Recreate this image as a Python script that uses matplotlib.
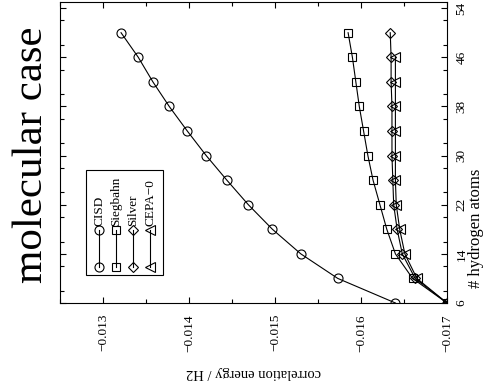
import matplotlib
matplotlib.use("Agg")
from matplotlib import pyplot as plt
from matplotlib.patches import Rectangle
import matplotlib.ticker as mticker

# number of hydrogen atoms
atoms = [6, 10, 14, 18, 22, 26, 30, 34, 38, 42, 46, 50]
atoms_cepa = [6, 10, 14, 18, 22, 26, 30, 34, 38, 42, 46]

# correlation energy / H2
cisd = [-0.01640, -0.01573, -0.01530, -0.01497, -0.01469, -0.01444,
        -0.01420, -0.01398, -0.01377, -0.01358, -0.01341, -0.01321]
siegbahn = [-0.01700, -0.01660, -0.01640, -0.01630, -0.01622, -0.01614,
            -0.01608, -0.01603, -0.01598, -0.01594, -0.01590, -0.01585]
silver = [-0.01700, -0.01663, -0.01648, -0.01642, -0.01638, -0.01637,
          -0.01636, -0.01636, -0.01636, -0.01635, -0.01635, -0.01634]
cepa0 = [-0.01700, -0.01665, -0.01651, -0.01645, -0.01641, -0.01640,
         -0.01640, -0.01640, -0.01640, -0.01640, -0.01640]

names = ["CISD", "Siegbahn", "Silver", "CEPA\u22120"]
markers = ["o", "s", "D", "<"]
msizes = [6.5, 6.3, 5.5, 6.5]

energy_ticks = [-0.013, -0.014, -0.015, -0.016, -0.017]
atom_ticks = [6, 14, 22, 30, 38, 46, 54]

plt.rcParams['font.family'] = ['Liberation Serif', 'DejaVu Serif']

fig = plt.figure(figsize=(4.85, 3.92), dpi=100)
ax = fig.add_axes([60 / 485, 89 / 392, 387 / 485, 301 / 392])

# the whole plot is drawn turned by 90 degrees: energy runs along x, atoms along y
series = [(cisd, atoms), (siegbahn, atoms), (silver, atoms), (cepa0, atoms_cepa)]
for (e, n), m, ms in zip(series, markers, msizes):
    ax.plot(e, n, color='black', linewidth=0.8, marker=m, markersize=ms,
            markerfacecolor='none', markeredgecolor='black', markeredgewidth=0.8)

ax.set_xlim(-0.0125, -0.017)
ax.set_ylim(6, 55)

ax.set_xticks(energy_ticks)
ax.xaxis.set_minor_locator(mticker.MultipleLocator(0.0005))
ax.xaxis.set_major_formatter(mticker.FuncFormatter(lambda v, p: f"{v:.3f}".replace('-', '\u2212')))
ax.set_yticks(atom_ticks)
ax.yaxis.set_minor_locator(mticker.MultipleLocator(4))
ax.yaxis.tick_right()
ax.yaxis.set_label_position('right')

ax.tick_params(which='both', direction='in', top=True, bottom=True, left=True, right=True,
               width=0.8, labelsize=9.5)
ax.tick_params(which='major', length=4.5)
ax.tick_params(which='minor', length=3)
ax.tick_params(axis='x', pad=8, labelrotation=90)
ax.tick_params(axis='y', pad=6, labelrotation=90)
for lab in ax.get_yticklabels():
    lab.set_verticalalignment('center')

for sp in ax.spines.values():
    sp.set_linewidth(0.8)

ax.set_xlabel("correlation energy / H2", fontsize=10.5, rotation=180, labelpad=10)
ax.set_ylabel("# hydrogen atoms", fontsize=12, rotation=90)
ax.yaxis.set_label_coords((468 - 60) / 387, 0.247)

fig.text(32 / 485, 1 - 155 / 392, "molecular case", fontsize=31, rotation=90,
         ha='center', va='center')

# key, drawn turned like the rest
ax.add_patch(Rectangle((0.067, 0.093), 0.199, 0.349, transform=ax.transAxes,
                       fill=False, edgecolor='black', linewidth=0.8))
key_x = [0.101, 0.145, 0.189, 0.233]
for kx, name, m, ms in zip(key_x, names, markers, msizes):
    ax.plot([kx, kx], [0.120, 0.243], transform=ax.transAxes, color='black',
            linewidth=0.8, marker=m, markersize=ms, markerfacecolor='none',
            markeredgecolor='black', markeredgewidth=0.8, clip_on=False)
    ax.text(kx, 0.256, name, transform=ax.transAxes, rotation=90,
            ha='center', va='bottom', fontsize=9.5)

fig.savefig("out.png", dpi=100)
